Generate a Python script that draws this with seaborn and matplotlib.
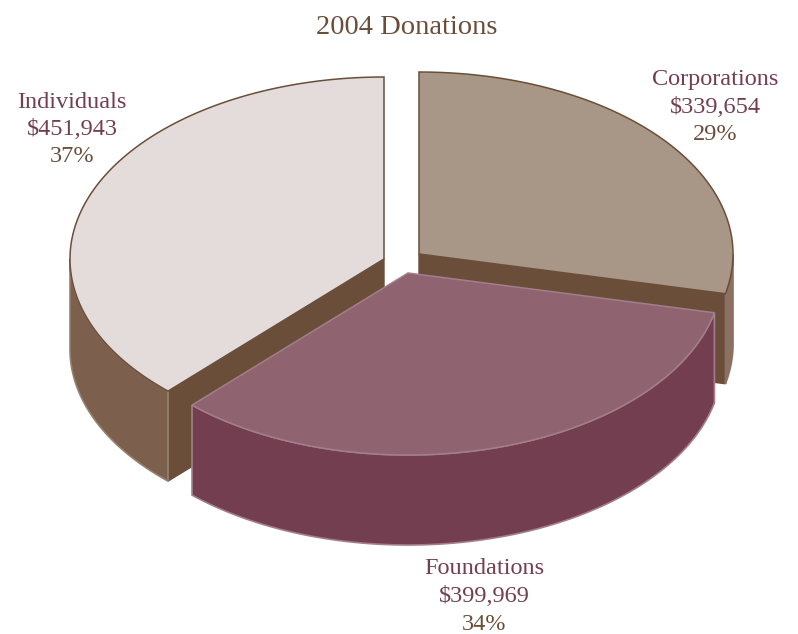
import matplotlib
matplotlib.use('Agg')
import matplotlib.pyplot as plt
from matplotlib.patches import Polygon
import numpy as np
import seaborn as sns

# Data
sources = ['Corporations', 'Foundations', 'Individuals']
amounts = [339654, 399969, 451943]
percent_labels = ['29%', '34%', '37%']

top_colors = sns.color_palette(['#a89686', '#8f6470', '#e3dcda'])
wall_colors = sns.color_palette(['#8a7161', '#733f50', '#7d5f4d'])
edge_colors = ['#6b4e3a', '#a27e8a', '#6b4e3a']
wall_edges = ['#8a7161', '#a27e8a', '#97806f']
cut_color = '#6b4e3a'
name_color = '#733f50'
pct_color = '#6b4e3a'

# Layout in pixels
centers = [(419, 254), (408, 273), (384, 259)]
radius_x = 314
radius_y = 182
depth = 90
label_pos = [(715, 80), (484, 569), (72, 102)]
line_height = 27.5
# back to front: corporations, individuals, foundations
draw_order = [0, 2, 1]

sns.set_theme(style='white')
plt.rcParams['font.family'] = ['Liberation Serif', 'DejaVu Serif']

fig, ax = plt.subplots(figsize=(7.98, 6.34), dpi=100)
ax.set_position([0, 0, 1, 1])
ax.set_xlim(0, 798)
ax.set_ylim(634, 0)
ax.axis('off')


def rim(center, angles):
    # angles run clockwise from the top of the ellipse
    return np.column_stack([center[0] + radius_x * np.sin(angles),
                            center[1] - radius_y * np.cos(angles)])


shares = np.array(amounts) / sum(amounts)
bounds = np.concatenate([[0], np.cumsum(shares)]) * 2 * np.pi

for layer, i in enumerate(draw_order):
    center = centers[i]
    start, end = bounds[i], bounds[i + 1]
    drop = np.array([0, depth])

    # cut faces that look towards the viewer
    if i != 1:
        p = rim(center, np.array([end if i == 0 else start]))[0]
        face = [center, p, p + drop, np.array(center) + drop]
        ax.add_patch(Polygon(face, fc=cut_color, ec=cut_color, lw=1, zorder=layer * 3 + 1))

    # outer wall, only where the rim faces front
    lo, hi = max(start, np.pi / 2), min(end, 3 * np.pi / 2)
    t = np.linspace(lo, hi, 120)
    upper = rim(center, t)
    wall = np.vstack([upper, (upper + drop)[::-1]])
    ax.add_patch(Polygon(wall, fc=wall_colors[i], ec=wall_edges[i], lw=1.2, zorder=layer * 3 + 2))

    # top of the slice
    t = np.linspace(start, end, 200)
    top = np.vstack([[center], rim(center, t)])
    ax.add_patch(Polygon(top, fc=top_colors[i], ec=edge_colors[i], lw=1.1,
                         joinstyle='miter', zorder=layer * 3 + 3))

ax.text(407, 27, '2004 Donations', color=pct_color, fontsize=20.5,
        ha='center', va='center', zorder=20)

for i, (x, y) in enumerate(label_pos):
    ax.text(x, y, sources[i], color=name_color, fontsize=17.5,
            ha='center', va='center', zorder=20)
    ax.text(x, y + line_height, f'${amounts[i]:,}', color=name_color, fontsize=17.5,
            ha='center', va='center', zorder=20)
    ax.text(x, y + 2 * line_height, percent_labels[i], color=pct_color, fontsize=17.5,
            ha='center', va='center', zorder=20)

fig.savefig('out.png', dpi=100, facecolor='white')
